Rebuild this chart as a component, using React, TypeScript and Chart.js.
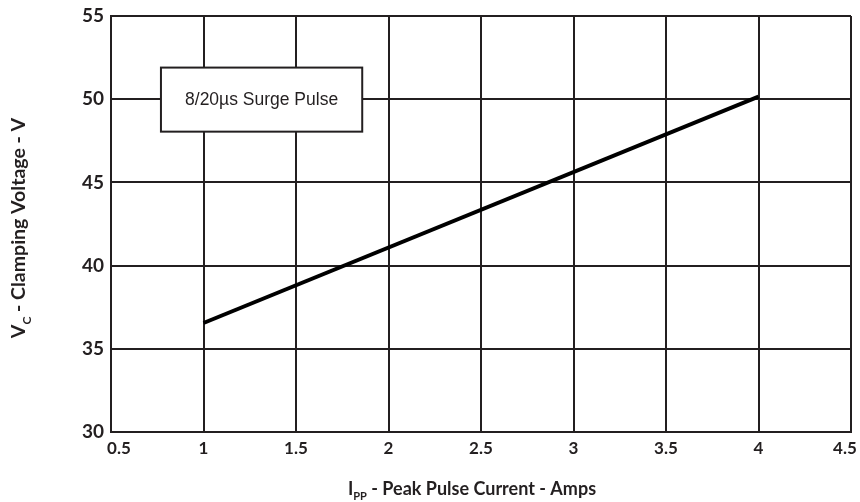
import React, { useEffect, useRef } from "react";
import { Chart, registerables } from "chart.js";

Chart.register(...registerables);

// Data
const currentAmps: number[] = [1, 4];
const clampVolts: number[] = [36.55, 50.15];

const xMin = 0.5, xMax = 4.5, xStep = 0.5;
const yMin = 30, yMax = 55, yStep = 5;

const noteText = "8/20\u00b5s Surge Pulse";
const noteBox = { x0: 0.77, x1: 1.858, y0: 48.05, y1: 51.9 };

const yTitleParts = [
  { t: "V", sub: false },
  { t: "C", sub: true },
  { t: " - Clamping Voltage - V", sub: false },
];
const xTitleParts = [
  { t: "I", sub: false },
  { t: "PP", sub: true },
  { t: " - Peak Pulse Current - Amps", sub: false },
];

const INK = "#231f20";
const FAMILY = "Lato, 'Open Sans', sans-serif";

function drawParts(ctx: CanvasRenderingContext2D, parts: { t: string; sub: boolean }[], size: number, subSize: number) {
  const mainFont = `bold ${size}px ${FAMILY}`;
  const subFont = `bold ${subSize}px ${FAMILY}`;
  let total = 0;
  const widths = parts.map((p) => {
    ctx.font = p.sub ? subFont : mainFont;
    const w = ctx.measureText(p.t).width;
    total += w;
    return w;
  });
  let x = -total / 2;
  ctx.textBaseline = "alphabetic";
  ctx.textAlign = "left";
  parts.forEach((p, i) => {
    ctx.font = p.sub ? subFont : mainFont;
    ctx.fillText(p.t, x, p.sub ? size * 0.3 : 0);
    x += widths[i];
  });
}

const annotPlugin = {
  id: "annot",
  beforeDraw(chart: any) {
    // nudge the outermost x tick labels inward, as in the reference
    const xs = chart.scales.x;
    const items = xs.getLabelItems();
    if (items && items.length) {
      items[0].options.translation[0] += 8;
      items[items.length - 1].options.translation[0] -= 6;
    }
  },
  afterDraw(chart: any) {
    const ctx: CanvasRenderingContext2D = chart.ctx;
    const xs = chart.scales.x;
    const ys = chart.scales.y;
    // note box
    const l = xs.getPixelForValue(noteBox.x0);
    const r = xs.getPixelForValue(noteBox.x1);
    const t = ys.getPixelForValue(noteBox.y1);
    const b = ys.getPixelForValue(noteBox.y0);
    ctx.save();
    ctx.fillStyle = "#ffffff";
    ctx.fillRect(l, t, r - l, b - t);
    ctx.strokeStyle = INK;
    ctx.lineWidth = 2;
    ctx.strokeRect(l, t, r - l, b - t);
    ctx.fillStyle = INK;
    ctx.font = `17.5px "Liberation Sans", Arial, sans-serif`;
    ctx.textAlign = "center";
    ctx.textBaseline = "middle";
    ctx.fillText(noteText, (l + r) / 2, (t + b) / 2 + 1);
    ctx.restore();

    // axis titles
    ctx.save();
    ctx.fillStyle = INK;
    ctx.translate(472, 495);
    drawParts(ctx, xTitleParts, 18, 11);
    ctx.restore();

    ctx.save();
    ctx.fillStyle = INK;
    ctx.translate(25, 228);
    ctx.rotate(-Math.PI / 2);
    drawParts(ctx, yTitleParts, 19.5, 12);
    ctx.restore();
  },
};

export default function App() {
  const ref = useRef<HTMLCanvasElement | null>(null);
  useEffect(() => {
    document.body.style.margin = "0";
    const canvas = ref.current!;
    const chart = new Chart(canvas, {
      type: "line",
      data: {
        datasets: [
          {
            data: currentAmps.map((x, i) => ({ x, y: clampVolts[i] })),
            borderColor: "#000000",
            borderWidth: 4,
            pointRadius: 0,
            fill: false,
            tension: 0,
          },
        ],
      },
      options: {
        animation: false,
        responsive: false,
        maintainAspectRatio: false,
        layout: { padding: { top: 16, right: 9, left: 0, bottom: 0 } },
        plugins: { legend: { display: false }, tooltip: { enabled: false } },
        scales: {
          x: {
            type: "linear",
            min: xMin,
            max: xMax,
            ticks: {
              stepSize: xStep,
              padding: 6,
              color: INK,
              font: { family: FAMILY, size: 17, weight: "bold" },
              callback: (v: any) => String(v),
            },
            grid: { color: INK, lineWidth: 2, drawTicks: false },
            border: { color: INK, width: 2 },
            afterFit: (s: any) => {
              s.height = 70;
              s.paddingLeft = 0;
              s.paddingRight = 0;
            },
          },
          y: {
            type: "linear",
            min: yMin,
            max: yMax,
            ticks: {
              stepSize: yStep,
              padding: 7,
              color: INK,
              font: { family: FAMILY, size: 19, weight: "bold" },
            },
            grid: { color: INK, lineWidth: 2, drawTicks: false },
            border: { color: INK, width: 2 },
            afterFit: (s: any) => {
              s.width = 111;
              s.paddingTop = 0;
              s.paddingBottom = 0;
            },
          },
        },
      },
      plugins: [annotPlugin],
    } as any);
    return () => chart.destroy();
  }, []);
  return (
    <div style={{ width: 860, height: 502, background: "#fff" }}>
      <canvas ref={ref} width={860} height={502} style={{ display: "block" }} />
    </div>
  );
}
